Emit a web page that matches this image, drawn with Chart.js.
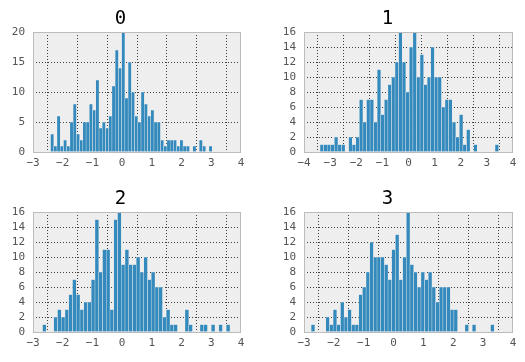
<!DOCTYPE html>
<html>
<head>
<meta charset="utf-8">
<script src="https://cdn.jsdelivr.net/npm/chart.js@4.4.1/dist/chart.umd.min.js"></script>
<style>
body { margin: 0; background: #fff; }
#wrap { position: relative; width: 525px; height: 362px; }
canvas { position: absolute; }
</style>
</head>
<body>
<div id="wrap">
<canvas id="h0" width="262" height="181" style="left:0px;top:0px"></canvas>
<canvas id="h1" width="263" height="181" style="left:262px;top:0px"></canvas>
<canvas id="h2" width="262" height="181" style="left:0px;top:181px"></canvas>
<canvas id="h3" width="263" height="181" style="left:262px;top:181px"></canvas>
</div>
<script>
// histogram counts, 50 bins each
var counts0 = [3,1,6,1,2,1,5,8,3,2, 5,5,8,7,12,4,5,4,6,11, 17,14,20,9,15,10,6,5,10,8, 6,7,5,5,2,1,2,2,2,1, 2,1,1,0,1,0,2,1,0,1];
var counts1 = [1,1,1,1,2,1,1,0,2,1, 2,7,4,7,7,4,11,5,7,9, 10,12,16,12,8,14,16,10,13,9, 10,14,10,10,6,7,7,4,2,5, 1,3,0,1,0,0,0,0,0,1];
var counts2 = [1,0,0,2,3,2,3,5,7,5, 3,4,4,7,15,8,11,11,3,15, 16,9,11,9,9,10,8,10,7,8, 6,6,2,3,1,1,0,0,3,1, 0,0,1,1,0,1,0,1,0,1];
var counts3 = [1,0,0,0,2,1,3,1,4,2, 3,1,1,5,6,8,12,10,10,10, 9,7,11,13,7,10,16,9,8,6, 8,7,8,6,4,6,6,6,3,3, 0,0,1,0,1,0,0,0,0,1];

// first and last bin edge of each histogram
var binRange0 = [-2.41, 3.03];
var binRange1 = [-3.385, 3.45];
var binRange2 = [-2.68, 3.63];
var binRange3 = [-2.76, 3.37];

var titles = ["0", "1", "2", "3"];
var xLimits = [[-3, 4], [-4, 4], [-3, 4], [-3, 4]];
var yMaxes = [20, 16, 16, 16];
var ySteps = [5, 2, 2, 2];

var barColor = "#348ABD";
var monoFont = "'DejaVu Sans Mono', monospace";

var panelBg = {
	id: "panelBg",
	beforeDraw: function(chart) {
		var a = chart.chartArea, ctx = chart.ctx;
		ctx.save();
		ctx.fillStyle = "#EEEEEE";
		ctx.fillRect(a.left, a.top, a.right - a.left, a.bottom - a.top);
		ctx.restore();
	},
	afterDraw: function(chart) {
		var a = chart.chartArea, ctx = chart.ctx;
		ctx.save();
		ctx.strokeStyle = "#BCBCBC";
		ctx.lineWidth = 1;
		ctx.strokeRect(a.left + 0.5, a.top + 0.5, a.right - a.left - 1, a.bottom - a.top);
		ctx.restore();
	}
};

function binPoints(counts, range) {
	var w = (range[1] - range[0]) / counts.length;
	var pts = [];
	for (var i = 0; i < counts.length; i++) {
		pts.push({ x: range[0] + (i + 0.5) * w, y: counts[i] });
	}
	return pts;
}

function minusSign(v) {
	return String(v).replace("-", "\u2212");
}

function makeHist(id, idx, counts, range, box) {
	new Chart(document.getElementById(id), {
		type: "bar",
		data: {
			datasets: [{
				data: binPoints(counts, range),
				backgroundColor: barColor,
				borderColor: "rgba(238,238,238,0.9)",
				borderWidth: 0.5,
				barPercentage: 1,
				categoryPercentage: 1
			}]
		},
		options: {
			responsive: false,
			animation: false,
			events: [],
			layout: { padding: { left: 0, right: box.pr, top: 0, bottom: 0 } },
			plugins: {
				legend: { display: false },
				tooltip: { enabled: false },
				title: {
					display: true,
					text: titles[idx],
					color: "#000",
					font: { family: monoFont, size: 19, lineHeight: "22px", weight: "normal" },
					padding: { top: box.tt, bottom: 2 }
				}
			},
			scales: {
				x: {
					type: "linear",
					offset: false,
					min: xLimits[idx][0],
					max: xLimits[idx][1],
					afterFit: function(s) { s.height = box.xh; },
					ticks: { stepSize: 1, autoSkip: false, color: "#555", padding: 5, maxRotation: 0,
						font: { family: monoFont, size: 11 }, callback: minusSign },
					grid: { color: "rgba(30,30,30,0.85)", lineWidth: 1, drawTicks: false },
					border: { display: false, dash: [1, 2] }
				},
				y: {
					min: 0,
					max: yMaxes[idx],
					afterFit: function(s) { s.width = box.yw; },
					ticks: { stepSize: ySteps[idx], autoSkip: false, color: "#555", padding: 8,
						font: { family: monoFont, size: 11 } },
					grid: { color: "rgba(30,30,30,0.85)", lineWidth: 1, drawTicks: false },
					border: { display: false, dash: [1, 2] }
				}
			}
		},
		plugins: [panelBg]
	});
}

makeHist("h0", 0, counts0, binRange0, { yw: 33, xh: 29, pr: 21, tt: 8 });
makeHist("h1", 1, counts1, binRange1, { yw: 42, xh: 29, pr: 12, tt: 8 });
makeHist("h2", 2, counts2, binRange2, { yw: 33, xh: 30, pr: 21, tt: 7 });
makeHist("h3", 3, counts3, binRange3, { yw: 42, xh: 30, pr: 12, tt: 7 });
</script>
</body>
</html>
